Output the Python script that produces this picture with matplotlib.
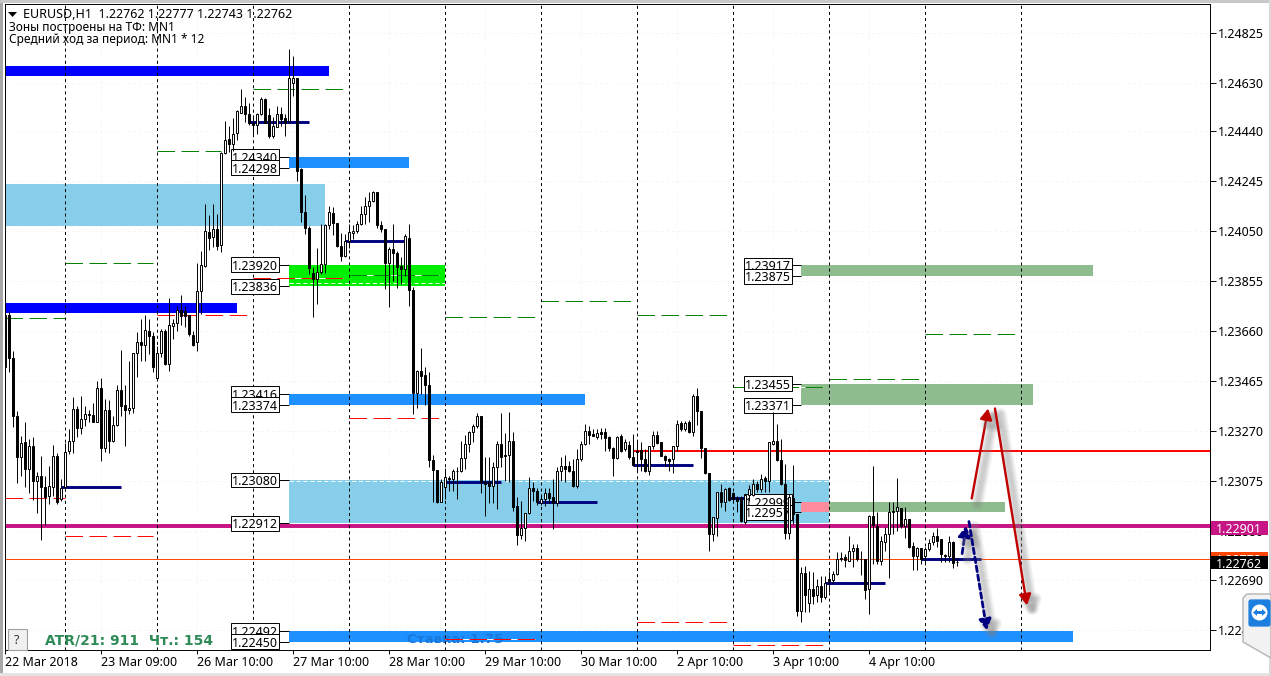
import numpy as np
import matplotlib
matplotlib.use('Agg')
import matplotlib.pyplot as plt
import matplotlib.patheffects as pe
from matplotlib.patches import Rectangle, Polygon, FancyArrowPatch, FancyBboxPatch, Circle

plt.rcParams['font.family'] = ['Noto Sans', 'DejaVu Sans']
plt.rcParams['lines.scale_dashes'] = False

# OHLC in points above 1.22000, one value per H1 candle
opens = [1520,1725,1555,1331,1169,1230,1124,1211,1075,1096,
         1052,1017,1052,1175,1007,1052,1192,1233,1358,1282,
         1319,1338,1335,1305,1439,1204,1354,1231,1295,1432,
         1373,1354,1361,1576,1620,1607,1660,1641,1477,1576,
         1663,1533,1680,1693,1744,1741,1725,1647,1617,1816,
         1914,2049,2027,2059,1997,2355,2408,2391,2433,2513,
         2540,2509,2474,2466,2509,2564,2502,2420,2455,2509,
         2490,2482,2630,2646,2291,2127,2061,1889,1862,1893,
         1923,2075,2122,2083,1994,1952,2014,2043,2050,2079,
         2118,2148,2167,2205,2073,2059,1926,1982,1965,1913,
         1903,2024,1822,1419,1507,1488,1449,1159,1120,996,
         1051,1088,1082,1117,1114,1166,1221,1267,1290,1328,
         1074,1074,1058,1130,1221,1178,1178,1234,977,867,
         893,952,1049,1039,991,1004,1030,1013,991,1114,
         1134,1133,1114,1055,1160,1221,1273,1261,1246,1269,
         1269,1246,1203,1164,1250,1199,1218,1168,1195,1198,
         1163,1117,1211,1257,1227,1175,1162,1160,1212,1302,
         1277,1308,1267,1406,1351,1204,1107,870,932,1035,
         993,1048,1029,1010,1010,915,1023,1023,1065,1045,
         1087,1078,1221,1234,1159,1065,873,1010,948,568,
         718,600,655,632,668,623,694,691,714,776,
         779,766,802,815,772,772,656,938,899,763,
         837,870,961,958,971,899,929,822,785,815,
         785,809,837,863,850,789,785,840,762]
highs = [1870,1741,1585,1348,1251,1308,1241,1247,1111,1175,
         1097,1136,1218,1185,1084,1224,1277,1403,1367,1406,
         1370,1354,1380,1465,1478,1396,1393,1328,1452,1588,
         1452,1543,1576,1657,1708,1725,1708,1657,1604,1669,
         1669,1790,1708,1757,1803,1757,1725,1663,1926,1975,
         2157,2115,2157,2118,2358,2482,2459,2492,2524,2605,
         2572,2552,2502,2513,2572,2568,2529,2494,2540,2533,
         2509,2759,2732,2646,2295,2190,2069,1909,1983,2079,
         2079,2150,2144,2083,2044,2040,2079,2075,2089,2147,
         2183,2202,2209,2205,2092,2059,1988,2079,1975,1949,
         2040,2079,1832,1510,1594,1520,1500,1179,1120,1084,
         1125,1095,1124,1130,1234,1254,1273,1299,1341,1328,
         1169,1169,1149,1234,1341,1263,1347,1266,1013,1000,
         952,1091,1072,1049,1026,1049,1049,1082,1130,1169,
         1176,1156,1163,1201,1234,1299,1292,1280,1277,1281,
         1281,1250,1207,1253,1261,1238,1234,1261,1231,1227,
         1201,1214,1273,1273,1227,1179,1166,1214,1315,1312,
         1312,1315,1416,1439,1351,1204,1107,935,1035,1065,
         1049,1052,1032,1019,1019,1026,1060,1084,1078,1104,
         1097,1227,1344,1299,1238,1143,1026,1137,948,740,
         746,727,720,695,707,707,727,727,798,798,
         792,863,831,831,805,772,942,1136,955,863,
         896,993,993,1088,971,974,929,837,818,815,
         818,850,876,893,850,792,863,844,777]
lows = [1500,1500,1286,1068,1095,1052,1029,1003,951,847,
        906,987,1016,987,1000,1039,1182,1185,1247,1260,
        1292,1305,1305,1305,1156,1188,1185,1228,1292,1328,
        1214,1338,1341,1481,1546,1543,1572,1500,1474,1559,
        1527,1507,1630,1660,1685,1676,1643,1604,1585,1728,
        1910,1978,1988,1978,1968,2352,2358,2365,2407,2511,
        2478,2466,2431,2431,2505,2474,2412,2412,2455,2462,
        2423,2474,2576,2248,2088,2041,1885,1714,1768,1884,
        1887,2059,2036,1988,1936,1949,1985,2020,2043,2073,
        2079,2085,2163,2063,2046,1825,1754,1858,1829,1845,
        1874,1760,1338,1361,1416,1371,1130,994,990,994,
        1006,1039,1039,1006,1110,1123,1188,1227,1283,1029,
        941,990,990,967,1130,1078,1072,961,828,850,
        844,948,1000,984,984,980,990,890,980,1078,
        1072,1110,1052,1049,1156,1218,1221,1250,1240,1240,
        1195,1195,1097,1160,1190,1195,1160,1134,1117,1117,
        1110,1098,1201,1221,1172,1136,1117,1107,1192,1273,
        1273,1263,1253,1296,1165,1104,805,841,863,974,
        958,1000,1000,954,915,909,1000,1019,1032,1032,
        1032,1032,1218,1156,1062,850,850,909,548,526,
        565,565,597,603,603,617,642,675,711,766,
        740,766,740,766,711,617,558,753,753,747,
        805,698,870,883,893,854,815,730,730,753,
        750,805,825,818,760,760,760,737,743]
closes = [1722,1555,1331,1169,1225,1124,1211,1075,1094,1052,
          1013,1055,1172,994,1049,1191,1233,1358,1282,1319,
          1338,1334,1308,1439,1204,1354,1234,1295,1432,1370,
          1354,1361,1576,1618,1607,1666,1641,1520,1576,1660,
          1533,1685,1693,1744,1718,1721,1650,1608,1819,1917,
          2053,2023,2059,1991,2355,2407,2391,2430,2521,2539,
          2509,2474,2466,2509,2564,2474,2420,2459,2509,2486,
          2474,2646,2646,2287,2127,2061,1905,1862,1893,1923,
          2075,2124,2083,1992,1952,2014,2049,2052,2079,2118,
          2150,2170,2205,2073,2058,1926,1979,1965,1910,1901,
          2032,1822,1419,1507,1484,1449,1159,1120,994,1071,
          1090,1083,1117,1114,1166,1221,1267,1290,1328,1074,
          1065,1056,1130,1221,1169,1173,1231,974,867,893,
          952,1049,1036,993,1005,1030,1009,991,1117,1134,
          1121,1114,1055,1162,1221,1273,1257,1250,1265,1261,
          1242,1203,1164,1246,1195,1230,1168,1140,1188,1163,
          1117,1211,1257,1224,1175,1159,1153,1214,1299,1277,
          1304,1267,1406,1351,1204,1107,870,935,1035,993,
          1045,1003,1005,997,919,1023,1046,1065,1043,1084,
          1075,1227,1234,1159,1065,873,1013,948,571,718,
          633,655,627,668,623,679,688,714,772,771,
          769,805,815,772,770,652,938,903,763,841,
          870,954,954,974,899,929,818,785,814,770,
          811,835,861,844,792,785,840,756,762]

# axis ticks
price_ticks = [1.24825,1.24630,1.24440,1.24245,1.24050,1.23855,1.23660,1.23465,
               1.23270,1.23075,1.22880,1.22690,1.22495]
time_ticks = [0,24,48,72,96,120,144,168,192,216]
time_labels = ['22 Mar 2018','23 Mar 09:00','26 Mar 10:00','27 Mar 10:00','28 Mar 10:00',
               '29 Mar 10:00','30 Mar 10:00','2 Apr 10:00','3 Apr 10:00','4 Apr 10:00']
day_lines = [15,38,62,86,110,134,158,182,206,230,254]

# zones: first bar, last bar, low, high, colour
zones = [(0,81,1.24657,1.24696,'#0000ff'),
         (0,58,1.23733,1.23772,'#0000ff'),
         (0,80,1.24069,1.24236,'#87ceeb'),
         (71,101,1.24298,1.24340,'#1e90ff'),
         (71,110,1.23836,1.23920,'#00ee00'),
         (71,145,1.23374,1.23416,'#1e90ff'),
         (71,206,1.22912,1.23080,'#87ceeb'),
         (71,267,1.22450,1.22492,'#1e90ff'),
         (199,272,1.23875,1.23917,'#8fbc8f'),
         (199,257,1.23371,1.23455,'#8fbc8f'),
         (199,206,1.22954,1.22996,'#ff8c9c'),
         (206,250,1.22954,1.22996,'#8fbc8f')]
# labelled levels
left_levels = [1.24340,1.24298,1.23920,1.23836,1.23416,1.23374,1.23080,1.22912,1.22492,1.22450]
right_levels = [1.23917,1.23875,1.23455,1.23371,1.22996,1.22954]
right_texts = ['1.23917','1.23875','1.23455','1.23371','1.22999','1.22957']

# period high and low dashes: first bar, last bar, price
green_dash = [(62,84.5,1.24605),(38,54,1.24365),(15,37,1.23928),(0,15,1.23712),
              (110,132.5,1.23715),(134,156.5,1.23780),(158,180.5,1.23722),
              (86,108.5,1.23878),(182,204.5,1.23442),(206,228.5,1.23472),(230,252.5,1.23650)]
red_dash = [(38,60.5,1.23722),(62,84.5,1.23868),(86,108.5,1.23320),(0,15,1.23008),
            (15,37,1.22860),(110,132.5,1.22458),(158,180.5,1.22526),(182,204.5,1.22438)]
# short navy levels: first bar, last bar, price
navy_levels = [(61,76,1.24476),(85,100,1.24014),(14,29,1.23051),(110,124,1.23074),
               (133,148,1.22996),(157,172,1.23140),(181,196,1.23008),
               (205,220,1.22680),(229,244,1.22772)]

# forecast arrows: from bar, from price, to bar, to price
red_arrows = [(241.6,1.23008,245.7,1.23359),(247.4,1.23359,255.4,1.22591)]
navy_arrows = [(239.2,1.22793,240.2,1.22902),(240.9,1.22918,245.4,1.22493)]

# just under one pixel wide, so the snapped line covers exactly one pixel row
THIN = 0.7

fig = plt.figure(figsize=(12.71,6.76), dpi=100, facecolor='white')
ax = fig.add_axes([4.5/1271, 26/676, 1205/1271, 646/676])
ax.set_xlim(-0.21, 301.04)
ax.set_ylim(1.22417, 1.249364)

x = np.arange(len(opens))
o = 1.22 + np.array(opens)/1e5
h = 1.22 + np.array(highs)/1e5
l = 1.22 + np.array(lows)/1e5
c = 1.22 + np.array(closes)/1e5

ax.grid(color='#f4f4f4', linestyle=(0,(2,2)), linewidth=0.6, zorder=0)
ax.set_axisbelow(True)

for x0, x1, lo, hi, col in zones:
    ax.add_patch(Rectangle((x0,lo), x1-x0, hi-lo, facecolor=col, edgecolor='none', zorder=1))


def hline(x0, x1, price, **kw):
    ax.plot([x0,x1], [price,price], solid_capstyle='butt', dash_capstyle='butt', **kw)


# white dashes on the zone edges
hline(71, 206, 1.23076, color='white', linewidth=THIN, linestyle=(0,(3,2)), zorder=1.5)
hline(71, 110, 1.23850, color='white', linewidth=THIN, linestyle=(0,(3,2)), zorder=1.5)

hline(-0.21, 301.04, 1.22901, color='#c71585', linewidth=2.85, zorder=1.6)
hline(157, 301.04, 1.23192, color='#ff0000', linewidth=1.4, zorder=1.6)
hline(-0.21, 301.04, 1.22772, color='#ff4500', linewidth=THIN, zorder=1.6)

# dashes have a white line under them, it shows in the gaps over the zones
for dash_set, col in [(green_dash,'#008000'), (red_dash,'#ff0000')]:
    for x0, x1, price in dash_set:
        hline(x0, x1, price, color='white', linewidth=THIN, zorder=1.9)
        hline(x0, x1, price, color=col, linewidth=THIN, linestyle=(0,(12.6,4.7)), zorder=2)
for x0, x1, price in navy_levels:
    hline(x0, x1, price, color='#000080', linewidth=2.1, zorder=2.2)

for d in day_lines:
    ax.axvline(d, color='black', linewidth=THIN, linestyle=(0,(2.2,2.2)), zorder=2.4)


# price boxes sit above the zones but under the candles
def level_box(centre, end, price, text, z):
    box_h = 58/1e5
    ax.plot([centre+6,end], [price,price], color='black', linewidth=THIN, zorder=z, solid_capstyle='butt')
    ax.add_patch(Rectangle((centre-6,price-box_h/2), 12, box_h, facecolor='white', edgecolor='black',
                           linewidth=THIN, zorder=z))
    ax.text(centre, price, text, ha='center', va='center_baseline', fontsize=9, color='black', zorder=z)


for n, price in enumerate(left_levels):
    level_box(62.4, 71, price, '%.5f' % price, 3+n*0.01)
for n, price in enumerate(right_levels):
    level_box(190.7, 199, price, right_texts[n], 3+n*0.01)

ax.text(407*0.25-1.33, 1.22456, 'Ставка: 1.75', fontsize=9.6, fontfamily='DejaVu Sans', fontweight='bold',
        color='#1878dc', va='center', ha='left', zorder=1.4)

# candles
ax.vlines(x, l, h, colors='black', linewidth=THIN, zorder=4)
up = c >= o
ax.bar(x[up], (c-o)[up], bottom=o[up], width=0.5, facecolor='white', edgecolor='black', linewidth=THIN, zorder=4.1)
ax.bar(x[~up], (c-o)[~up], bottom=o[~up], width=0.5, facecolor='black', edgecolor='black', linewidth=THIN, zorder=4.1)

# forecast arrows with a soft grey shadow
shadow = [pe.SimpleLineShadow(offset=(4,-4), shadow_color='#808080', alpha=0.09, linewidth=w)
          for w in (9,7,5.5,4,2.5)] + [pe.Normal()]
for x0, p0, x1, p1 in red_arrows:
    a = FancyArrowPatch((x0,p0), (x1,p1), arrowstyle='-|>,head_length=6.5,head_width=3.6', color='#c00000',
                        linewidth=1.7, shrinkA=0, shrinkB=0, zorder=6, path_effects=shadow)
    ax.add_patch(a)
for x0, p0, x1, p1 in navy_arrows:
    a = FancyArrowPatch((x0,p0), (x1,p1), arrowstyle='-|>,head_length=6.5,head_width=3.6', color='#000080',
                        linewidth=2, linestyle=(0,(4,2.5)), shrinkA=0, shrinkB=0, zorder=6, path_effects=shadow)
    ax.add_patch(a)

# axes look of the terminal
ax.yaxis.tick_right()
ax.set_yticks(price_ticks)
ax.set_yticklabels(['%.5f' % p for p in price_ticks], fontsize=9)
ax.set_xticks(time_ticks)
ax.set_xticklabels(time_labels, fontsize=9, ha='left')
ax.tick_params(axis='y', length=4, width=THIN, pad=2.2)
ax.tick_params(axis='x', length=3, width=THIN, pad=1.6)
for s in ax.spines.values():
    s.set_linewidth(THIN)
    s.set_zorder(7)

# price tags on the right scale: price, shift of the tag, colour
tr = ax.get_yaxis_transform()
for price, dy, bg in [(1.22772,0.0,'#ff4500'), (1.22901,-0.00008,'#c71585'), (1.22762,-0.00004,'black')]:
    ax.add_patch(Rectangle((1.0013,price+dy-0.00027), 0.0473, 0.00054, transform=tr, facecolor=bg,
                           edgecolor='none', clip_on=False, zorder=8))
    ax.text(1.0053, price+dy, '%.5f' % price, transform=tr, color='white', fontsize=9, va='center_baseline',
            ha='left', clip_on=False, zorder=8)

# text in the chart corners
fig.text(23/1271, 1-14/676, 'EURUSD,H1  1.22762 1.22777 1.22743 1.22762', fontsize=9, va='center', ha='left')
fig.text(9/1271, 1-27.5/676, 'Зоны построены на ТФ: MN1', fontsize=8.55, va='center', ha='left')
fig.text(9/1271, 1-40/676, 'Средний ход за период: MN1 * 12', fontsize=8.55, va='center', ha='left')
fig.text(45/1271, 1-640/676, 'ATR/21: 911  Чт.: 154', fontsize=10, fontfamily='DejaVu Sans', fontweight='bold',
         color='#2e8b57', va='center', ha='left')


def fig_xy(px, py):
    return (px/1271, 1-py/676)


# little triangle next to the symbol, "?" button, window strips
fig.add_artist(Polygon([fig_xy(8,12),fig_xy(17,12),fig_xy(12.5,17)], closed=True, facecolor='black',
                       edgecolor='none', transform=fig.transFigure))
fig.add_artist(Rectangle(fig_xy(8,650), 19/1271, 21/676, facecolor='#f0f0f0', edgecolor='#a0a0a0',
                         linewidth=0.8, transform=fig.transFigure))
fig.text(17/1271, 1-640/676, '?', fontsize=9, va='center', ha='center', color='#303030')
fig.add_artist(Rectangle((0,0), 3/1271, 1, facecolor='#a8a8a8', edgecolor='none', transform=fig.transFigure))
fig.add_artist(Rectangle((0,1-3/676), 1, 3/676, facecolor='#c8c8c8', edgecolor='none', transform=fig.transFigure))
fig.add_artist(Rectangle((0,0), 1, 3/676, facecolor='#e4e4e4', edgecolor='none', transform=fig.transFigure))
fig.add_artist(Rectangle((1-2/1271,0), 2/1271, 1, facecolor='#d8d8d8', edgecolor='none', transform=fig.transFigure))

# remote desktop widget in the lower right corner
fig.add_artist(Polygon([fig_xy(1247,594),fig_xy(1271,594),fig_xy(1271,658),fig_xy(1243,642),fig_xy(1243,598)],
                       closed=True, facecolor='#f2f2f2', edgecolor='#b4b4b4', linewidth=1,
                       transform=fig.transFigure, zorder=9))
fig.add_artist(FancyBboxPatch(fig_xy(1251,624), 17/1271, 22/676, boxstyle='round,pad=0.0015',
                              facecolor='#1c7fe0', edgecolor='#1c7fe0', mutation_aspect=1.9,
                              transform=fig.transFigure, zorder=10))
# the icon is drawn in display pixels so the circle stays round
fig.add_artist(Circle((1259.5,676-612.5), 8, facecolor='white', edgecolor='none', transform=None, zorder=11))
fig.add_artist(Polygon([fig_xy(1253,612.5),fig_xy(1257,609),fig_xy(1257,611),fig_xy(1262,611),fig_xy(1262,609),
                        fig_xy(1266,612.5),fig_xy(1262,616),fig_xy(1262,614),fig_xy(1257,614),fig_xy(1257,616)],
                       closed=True, facecolor='#1c7fe0', edgecolor='none', transform=fig.transFigure, zorder=12))

fig.savefig('out.png', dpi=100)
